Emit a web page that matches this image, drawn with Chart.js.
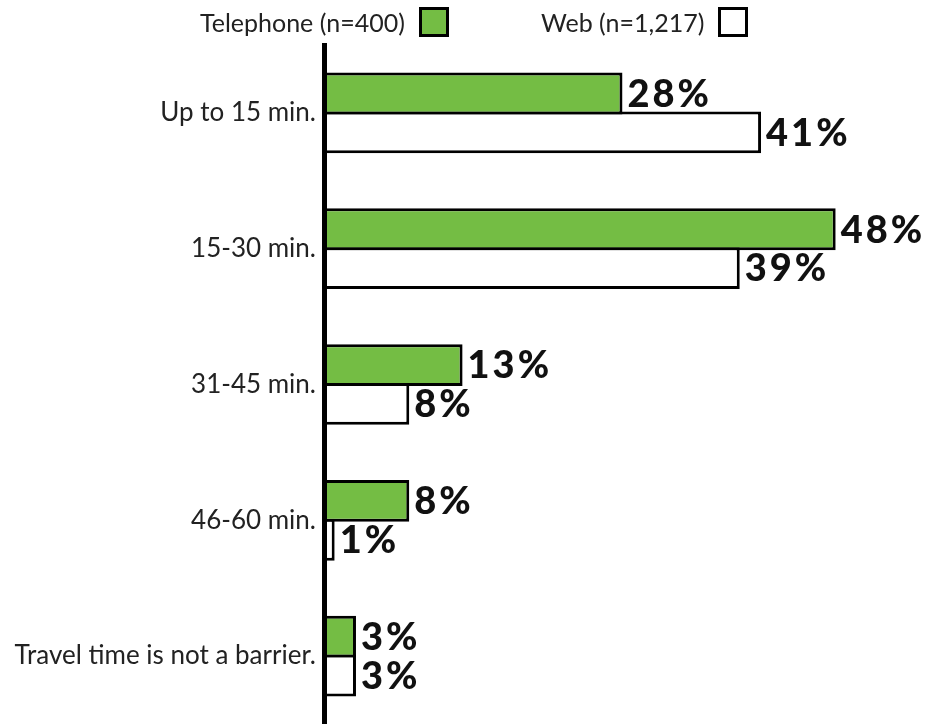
<!DOCTYPE html>
<html>
<head>
<meta charset="utf-8">
<script src="https://cdn.jsdelivr.net/npm/chart.js@4.4.1/dist/chart.umd.min.js"></script>
<style>
  html, body { margin: 0; padding: 0; background: #fff; overflow: hidden; }
  #wrap { position: relative; width: 931px; height: 724px; }
  #legend { position: absolute; top: 0; left: 0; width: 931px; height: 45px; font-family: Lato, sans-serif; font-size: 25px; color: #222; }
  .item { position: absolute; top: 7px; display: flex; align-items: center; }
  .item span { margin-right: 14px; }
  .box { width: 24px; height: 24px; border: 3px solid #000; }
</style>
</head>
<body>
<div id="wrap">
  <canvas id="travelChart" width="931" height="724"></canvas>
  <div id="legend"></div>
</div>
<script>
// Chart data
const categories = [
  "Up to 15 min.",
  "15-30 min.",
  "31-45 min.",
  "46-60 min.",
  "Travel time is not a barrier.",
];
const seriesNames = ["Telephone (n=400)", "Web (n=1,217)"];
const telephoneValues = [28, 48, 13, 8, 3];
const webValues = [41, 39, 8, 1, 3];

const GREEN = "#74bd44";

/** Value labels drawn at the end of each bar */
const barValueLabels = {
  id: "barValueLabels",
  afterDatasetsDraw(chart) {
    const ctx = chart.ctx;
    ctx.save();
    ctx.font = "900 38px Lato, sans-serif";
    ctx.letterSpacing = "3px";
    ctx.fillStyle = "#111";
    ctx.textAlign = "left";
    ctx.textBaseline = "middle";
    chart.data.datasets.forEach((ds, i) => {
      chart.getDatasetMeta(i).data.forEach((bar, j) => {
        ctx.fillText(ds.data[j] + "%", bar.x + 5, bar.y + 1);
      });
    });
    ctx.restore();
  },
};

const ctx = document.getElementById("travelChart").getContext("2d");
const chart = new Chart(ctx, {
  type: "bar",
  data: {
    labels: categories,
    datasets: [
      {
        label: seriesNames[0],
        data: telephoneValues,
        backgroundColor: GREEN,
        borderColor: "#000",
        borderWidth: 3,
        borderSkipped: false,
      },
      {
        label: seriesNames[1],
        data: webValues,
        backgroundColor: "#fff",
        borderColor: "#000",
        borderWidth: 3,
        borderSkipped: false,
      },
    ],
  },
  options: {
    indexAxis: "y",
    responsive: false,
    animation: false,
    categoryPercentage: 0.572,
    barPercentage: 1.078,
    layout: { padding: { top: 45, right: 74, bottom: 0, left: 0 } },
    scales: {
      x: { display: false, min: 0, max: 50 },
      y: {
        afterFit: (scale) => {
          scale.width = 324;
          scale.paddingTop = 0;
          scale.paddingBottom = 0;
        },
        grid: { display: false, drawTicks: false },
        border: { display: true, color: "#000", width: 5 },
        ticks: {
          padding: 8,
          color: "#222",
          font: { family: "Lato, sans-serif", size: 26 },
        },
      },
    },
    plugins: {
      legend: { display: false },
      tooltip: { enabled: false },
    },
  },
  plugins: [barValueLabels],
});

// Legend (text first, then swatch)
const legend = document.getElementById("legend");
const legendLeft = [200, 541];
chart.data.datasets.forEach((ds, i) => {
  const item = document.createElement("div");
  item.className = "item";
  item.style.left = legendLeft[i] + "px";
  item.innerHTML = `<span>${ds.label}</span><div class="box" style="background:${ds.backgroundColor}"></div>`;
  legend.appendChild(item);
});
</script>
</body>
</html>
